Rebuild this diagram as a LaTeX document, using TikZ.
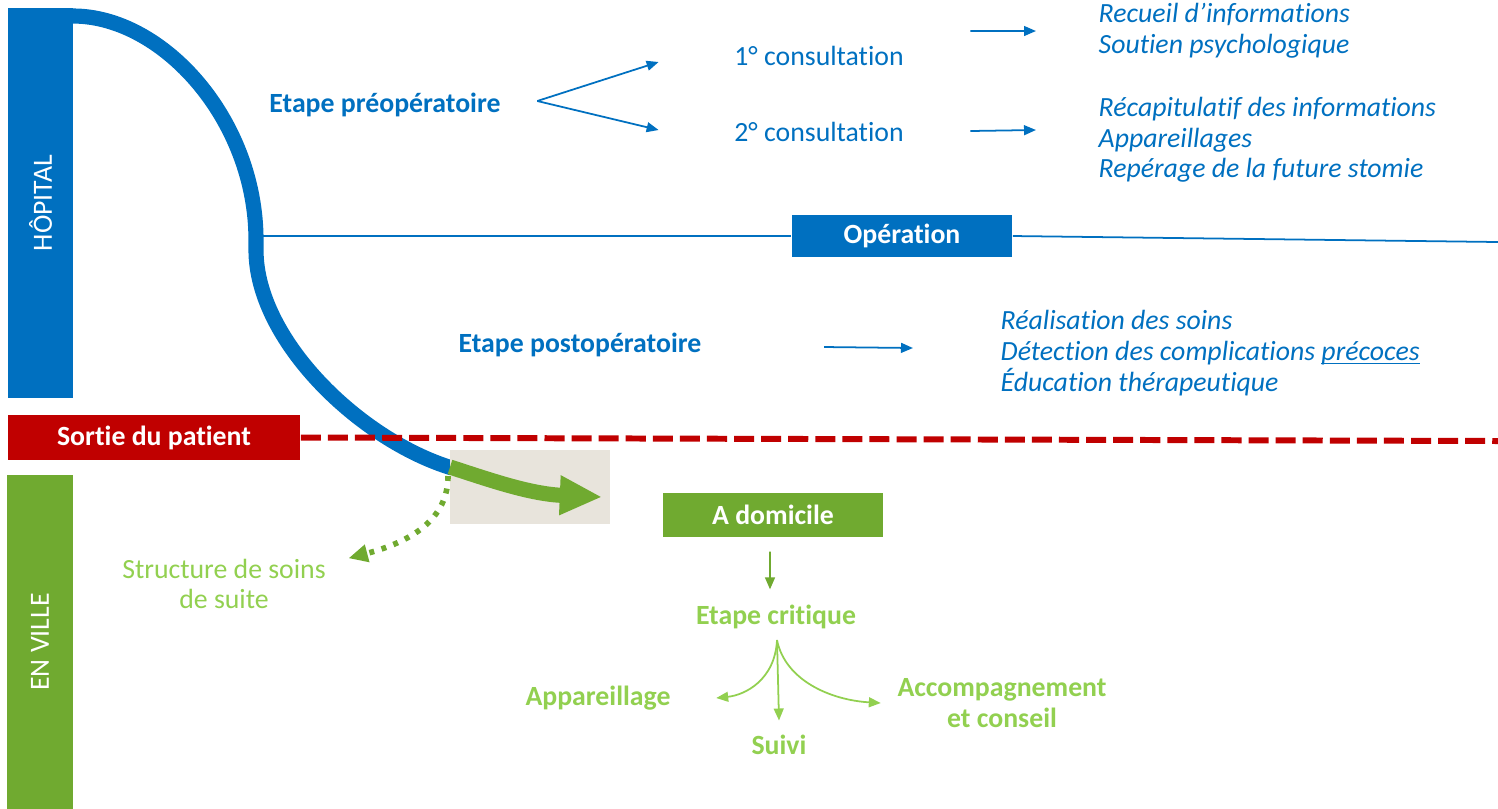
\documentclass[tikz,border=0pt]{standalone}
\usepackage{fontspec}
\setmainfont{Carlito}[Ligatures=NoCommon]
\usetikzlibrary{positioning, calc, arrows.meta}
\definecolor{bleu}{RGB}{0,112,192}
\definecolor{rouge}{RGB}{192,0,0}
\definecolor{vert}{RGB}{112,170,48}
\definecolor{vertclair}{RGB}{146,208,80}
\definecolor{beige}{RGB}{232,228,220}
\newcommand{\souligne}[1]{\setbox0\hbox{#1}\rlap{\rule[-1.1pt]{\wd0}{0.4pt}}\box0}

\begin{document}
\begin{tikzpicture}[x=0.01cm, y=-0.01cm, font=\fontsize{7.9}{8.7}\selectfont,
    fleche/.style={line width=0.5pt, -{Triangle[length=3.4pt,width=2.8pt]}},
    boite/.style={text=white, font=\fontsize{7.9}{8.7}\selectfont\bfseries, inner sep=0pt},
    titre/.style={font=\fontsize{7.9}{8.7}\selectfont\bfseries, inner sep=0pt},
    liste/.style={text=bleu, font=\fontsize{7.9}{8.7}\selectfont\itshape, align=left, anchor=west, inner sep=0pt}]
        \useasboundingbox (0,0) rectangle (1498,808);
        %barres laterales
        \node[boite, fill=bleu, rotate=90, minimum width=3.9cm, minimum height=0.65cm, font=\fontsize{7.9}{8.7}\selectfont] (hopital) at (40.5,203) {HÔPITAL};
        \node[boite, fill=vert, rotate=90, minimum width=3.34cm, minimum height=0.65cm, font=\fontsize{7.9}{8.7}\selectfont] (ville) at (40,642) {EN VILLE};
        %courbe du parcours
        \draw[bleu, line width=4.3pt] (60,16)--(73,16) .. controls (163,16) and (256,120) .. (256,240) --(256,250) .. controls (256,340) and (360,440) .. (452,468);
        \coordinate (courbe) at (262,236);
        %sortie
        \node[boite, fill=rouge, minimum width=2.92cm, minimum height=0.45cm] (sortie) at (154,437.5) {Sortie du patient};
        \coordinate (finsortie) at (1498,441);
        \draw[rouge, line width=1.7pt, dash pattern=on 5.7pt off 2pt] (sortie.east)--(finsortie);
        %vers le domicile
        \fill[beige] (450,450) rectangle (610,524);
        \draw[vert, line width=4.3pt, -{Triangle[length=12pt,width=10.5pt]}] (450,467) .. controls (490,480) and (530,494) .. (602,497);
        \node[text=vertclair, align=center, inner sep=0pt] (suite) at (224,584) {Structure de soins\\de suite};
        \draw[vert, line width=1.6pt, dash pattern=on 1.4pt off 2.2pt, -{Triangle[length=5.5pt,width=4.8pt]}] (448,476) .. controls (448,520) and (410,542) .. ([xshift=0.22cm]suite.north east);
        %etape preoperatoire
        \node[titre, text=bleu] (pre) at (385,105) {Etape préopératoire};
        \node[text=bleu, inner sep=0pt] (cons1) at (819,56) {1° consultation};
        \node[text=bleu, inner sep=0pt] (cons2) at (819,132) {2° consultation};
        \draw[fleche, bleu] ([xshift=0.36cm,yshift=0.04cm]pre.east)--([xshift=-0.75cm,yshift=-0.06cm]cons1.west);
        \draw[fleche, bleu] ([xshift=0.36cm,yshift=0.04cm]pre.east)--([xshift=-0.75cm,yshift=0.02cm]cons2.west);
        \node[liste] (info1) at (1098,31) {Recueil d’informations\\Soutien psychologique};
        \node[liste] (info2) at (1098,140) {Récapitulatif des informations\\Appareillages\\Repérage de la future stomie};
        \draw[fleche, bleu] ([xshift=0.66cm,yshift=0.25cm]cons1.east)--([xshift=-0.62cm]info1.west);
        \draw[fleche, bleu] ([xshift=0.66cm,yshift=0.01cm]cons2.east)--([xshift=-0.62cm,yshift=0.10cm]info2.west);
        %operation
        \node[boite, fill=bleu, minimum width=2.2cm, minimum height=0.42cm] (op) at (902,236) {Opération};
        \coordinate (finop) at (1498,242);
        \draw[bleu, line width=0.5pt] (courbe)--(op.west);
        \draw[bleu, line width=0.5pt] (op.east)--(finop);
        %etape postoperatoire
        \node[titre, text=bleu] (post) at (580,345) {Etape postopératoire};
        \node[liste] (info3) at (1000,353) {Réalisation des soins\\Détection des complications \souligne{précoces}\\Éducation thérapeutique};
        \draw[fleche, bleu] ([xshift=1.22cm,yshift=-0.02cm]post.east)--([xshift=-0.87cm,yshift=0.05cm]info3.west);
        %a domicile
        \node[boite, fill=vert, minimum width=2.2cm, minimum height=0.44cm] (domicile) at (773,515) {A domicile};
        \node[titre, text=vertclair] (critique) at (776,617) {Etape critique};
        \draw[fleche, vert] ([xshift=-0.03cm,yshift=-0.14cm]domicile.south)--([xshift=-0.06cm,yshift=0.15cm]critique.north);
        \coordinate (fourche) at (777,640);
        \node[titre, text=vertclair] (appa) at (598,698) {Appareillage};
        \node[titre, text=vertclair] (suivi) at (779,745) {Suivi};
        \node[titre, text=vertclair, align=center] (acc) at (1002,703) {Accompagnement\\et conseil};
        \draw[fleche, vertclair] (fourche) .. controls (775,680) and (745,695) .. ([xshift=0.45cm]appa.east);
        \draw[fleche, vertclair] (fourche)--([yshift=0.14cm]suivi.north);
        \draw[fleche, vertclair] (fourche) .. controls (785,680) and (830,700) .. ([xshift=-0.16cm]acc.west);
    \end{tikzpicture}
\end{document}
